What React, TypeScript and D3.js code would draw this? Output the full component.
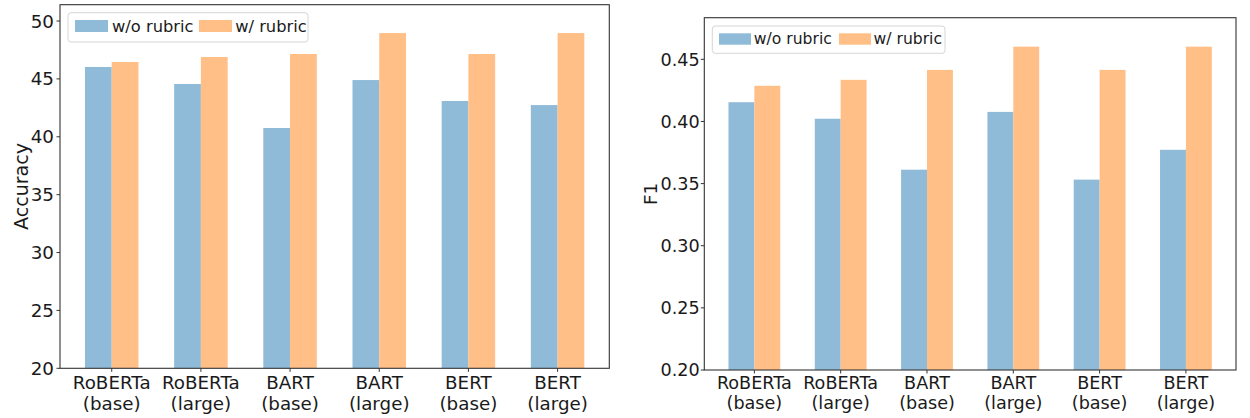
import React from "react";
import * as d3 from "d3";

const categories = ["RoBERTa\n(base)", "RoBERTa\n(large)", "BART\n(base)", "BART\n(large)", "BERT\n(base)", "BERT\n(large)"];
const seriesNames = ["w/o rubric", "w/ rubric"];
const accWithout = [46.03, 44.56, 40.76, 44.9, 43.09, 42.74];
const accWith = [46.46, 46.89, 47.15, 48.96, 47.15, 48.96];
const f1Without = [0.4155, 0.4022, 0.3612, 0.4077, 0.3532, 0.3772];
const f1With = [0.4287, 0.4335, 0.4415, 0.4602, 0.4415, 0.4602];
const accTicks = [20, 25, 30, 35, 40, 45, 50];
const f1Ticks = [0.2, 0.25, 0.3, 0.35, 0.4, 0.45];

const BLUE = "#8fbbd9";
const ORANGE = "#ffbf86";
const FONT = "DejaVu Sans, sans-serif";

type PanelProps = {
  x0: number; x1: number; y0: number; y1: number;
  ydomain: [number, number];
  ticks: number[];
  fmt: (v: number) => string;
  a: number[]; b: number[];
  font: number; legendFont: number;
  ylabel: string; ylabelX: number;
  tickLabelGap: number;
  legend: { x: number; y: number; w: number; h: number; p1: number; t1: number; p2: number; t2: number; pw: number; py: number; ph: number; base: number };
};

function Panel(p: PanelProps) {
  const x = d3.scaleLinear().domain([-0.58, 5.58]).range([p.x0, p.x1]);
  const y = d3.scaleLinear().domain(p.ydomain).range([p.y1, p.y0]);
  const bw = 0.3;
  const lineGap = p.font * 1.17;
  return (
    <g fontFamily={FONT}>
      {categories.map((c, i) => (
        <g key={c}>
          <rect x={x(i - bw)} width={x(i) - x(i - bw)} y={y(p.a[i])} height={y(p.ydomain[0]) - y(p.a[i])} fill={BLUE} />
          <rect x={x(i)} width={x(i + bw) - x(i)} y={y(p.b[i])} height={y(p.ydomain[0]) - y(p.b[i])} fill={ORANGE} />
        </g>
      ))}
      <rect x={p.x0} y={p.y0} width={p.x1 - p.x0} height={p.y1 - p.y0} fill="none" stroke="#333" strokeWidth={1.1} />
      {p.ticks.map((t) => (
        <g key={t}>
          <line x1={p.x0 - 3.5} x2={p.x0} y1={y(t)} y2={y(t)} stroke="#333" strokeWidth={1} />
          <text x={p.x0 - p.tickLabelGap} y={y(t)} dy="0.36em" textAnchor="end" fontSize={p.font} fill="#1a1a1a">{p.fmt(t)}</text>
        </g>
      ))}
      {categories.map((c, i) => (
        <g key={"xl" + i}>
          <line x1={x(i)} x2={x(i)} y1={p.y1} y2={p.y1 + 3.5} stroke="#333" strokeWidth={1} />
          {c.split("\n").map((line, j) => (
            <text key={j} x={x(i)} y={388.5 + j * lineGap} textAnchor="middle" fontSize={p.font} fill="#1a1a1a">{line}</text>
          ))}
        </g>
      ))}
      <text transform={`translate(${p.ylabelX},${(p.y0 + p.y1) / 2}) rotate(-90)`} textAnchor="middle" fontSize={p.font + 0.8} fill="#1a1a1a">{p.ylabel}</text>
      <rect x={p.legend.x} y={p.legend.y} width={p.legend.w} height={p.legend.h} rx={3} fill="white" fillOpacity={0.8} stroke="#d6d6d6" strokeWidth={1} />
      <rect x={p.legend.p1} y={p.legend.py} width={p.legend.pw} height={p.legend.ph} fill={BLUE} />
      <text x={p.legend.t1} y={p.legend.base} fontSize={p.legendFont} fill="#1a1a1a">{seriesNames[0]}</text>
      <rect x={p.legend.p2} y={p.legend.py} width={p.legend.pw} height={p.legend.ph} fill={ORANGE} />
      <text x={p.legend.t2} y={p.legend.base} fontSize={p.legendFont} fill="#1a1a1a">{seriesNames[1]}</text>
    </g>
  );
}

export default function App() {
  return (
    <svg width={1250} height={418} style={{ position: "absolute", left: 0, top: 0, background: "white" }}>
      <rect width={1250} height={418} fill="white" />
      <Panel
        x0={60} x1={609.3} y0={4.7} y1={368.3}
        ydomain={[20, 51.41]} ticks={accTicks} fmt={(v) => d3.format("d")(v)}
        a={accWithout} b={accWith}
        font={18.3} legendFont={16.3}
        ylabel="Accuracy" ylabelX={28}
        tickLabelGap={6}
        legend={{ x: 68, y: 12.7, w: 240, h: 29.3, p1: 75, t1: 112, p2: 199, t2: 235.2, pw: 33, py: 20, ph: 12, base: 31.5 }}
      />
      <Panel
        x0={704.3} x1={1236} y0={17.7} y1={370}
        ydomain={[0.2, 0.4835]} ticks={f1Ticks} fmt={(v) => d3.format(".2f")(v)}
        a={f1Without} b={f1With}
        font={17.6} legendFont={15.6}
        ylabel="F1" ylabelX={657}
        tickLabelGap={4.6}
        legend={{ x: 712.3, y: 26, w: 232.7, h: 27.3, p1: 719, t1: 753.8, p2: 839, t2: 873.5, pw: 32, py: 33.3, ph: 11.4, base: 44.3 }}
      />
    </svg>
  );
}
